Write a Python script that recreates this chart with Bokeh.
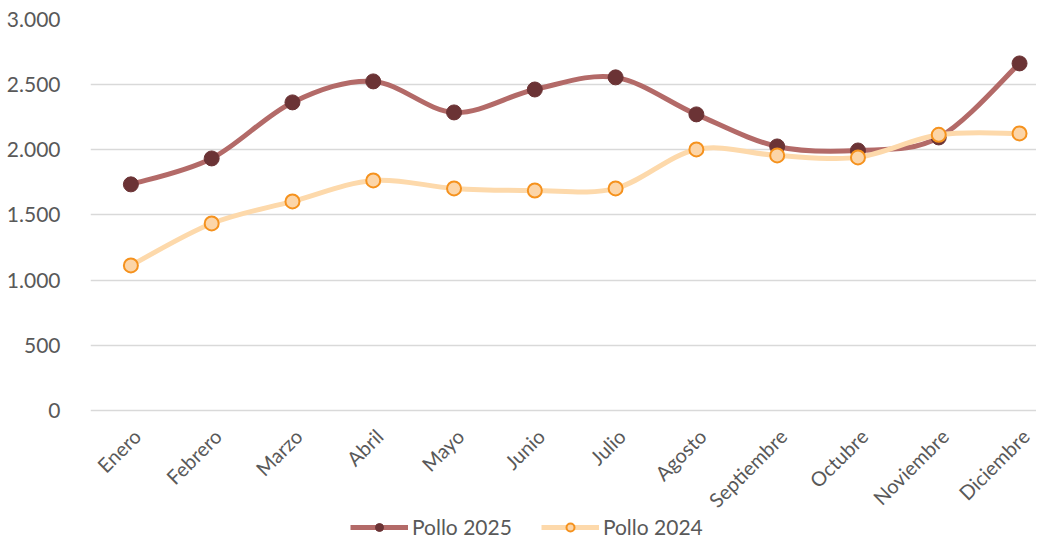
import numpy as np
from bokeh.plotting import figure
from bokeh.models import FixedTicker, Legend, LegendItem, Range1d, ColumnDataSource
from bokeh.core.properties import value
from bokeh.embed import file_html
from bokeh.resources import INLINE

months = ["Enero", "Febrero", "Marzo", "Abril", "Mayo", "Junio", "Julio",
          "Agosto", "Septiembre", "Octubre", "Noviembre", "Diciembre"]
pollo_2025 = [1735, 1934, 2364, 2525, 2287, 2463, 2556, 2272, 2026, 1995, 2095, 2663]
pollo_2024 = [1113, 1435, 1604, 1765, 1704, 1688, 1704, 2003, 1957, 1942, 2115, 2126]
y_ticks = [0, 500, 1000, 1500, 2000, 2500, 3000]
y_tick_labels = ["0", "500", "1.000", "1.500", "2.000", "2.500", "3.000"]

FONT = "Lato"
TXT = "#595959"

# frame spans to the bottom so the legend (drawn inside the frame) sits below the month labels
Y_MIN, Y_MAX = -1013, 3000
p = figure(frame_width=946, frame_height=523, output_backend="svg", toolbar_location=None,
           x_range=Range1d(-0.5, 11.21), y_range=Range1d(Y_MIN, Y_MAX),
           min_border_left=90, min_border_right=0, min_border_top=19, min_border_bottom=0)
p.outline_line_color = None
p.background_fill_color = "white"

xs = np.arange(len(months), dtype=float)


def smooth_segments(x, y):
    n = len(x)
    x0, y0, x1, y1, cx0, cy0, cx1, cy1 = ([] for _ in range(8))
    for i in range(n - 1):
        xm, ym = (x[i - 1], y[i - 1]) if i > 0 else (x[i], y[i])
        xp, yp = (x[i + 2], y[i + 2]) if i + 2 < n else (x[i + 1], y[i + 1])
        x0.append(x[i]); y0.append(y[i]); x1.append(x[i + 1]); y1.append(y[i + 1])
        cx0.append(x[i] + (x[i + 1] - xm) / 6.0); cy0.append(y[i] + (y[i + 1] - ym) / 6.0)
        cx1.append(x[i + 1] - (xp - x[i]) / 6.0); cy1.append(y[i + 1] - (yp - y[i]) / 6.0)
    return dict(x0=x0, y0=y0, x1=x1, y1=y1, cx0=cx0, cy0=cy0, cx1=cx1, cy1=cy1)


s25 = smooth_segments(xs, np.array(pollo_2025, float))
s24 = smooth_segments(xs, np.array(pollo_2024, float))

c25_line, c25_fill = "#b36a68", "#6b3335"
c24_line, c24_fill, c24_edge = "#fdd9ab", "#fcd5a8", "#f5921e"

b25 = p.bezier(line_color=c25_line, line_width=5, line_cap="round", **s25)
m25 = p.scatter(xs, pollo_2025, size=15, fill_color=c25_fill, line_color=c25_fill)
b24 = p.bezier(line_color=c24_line, line_width=5, line_cap="round", **s24)
m24 = p.scatter(xs, pollo_2024, size=14, fill_color=c24_fill, line_color=c24_edge, line_width=2)

# month labels along the zero line, rotated 45 degrees
lab_src = ColumnDataSource(dict(x=xs, y=[0] * len(months), text=months))
p.text(x="x", y="y", text="text", source=lab_src, angle=np.pi / 4,
       text_align="right", text_baseline="middle", x_offset=6, y_offset=22,
       text_font=value(FONT), text_font_size="20px", text_color=TXT)

# legend proxies (outside the visible range)
l25 = p.line([0, 1], [Y_MIN - 500, Y_MIN - 500], line_color=c25_line, line_width=5)
l24 = p.line([0, 1], [Y_MIN - 500, Y_MIN - 500], line_color=c24_line, line_width=5)

legend = Legend(items=[LegendItem(label="Pollo 2025", renderers=[l25, m25]),
                       LegendItem(label="Pollo 2024", renderers=[l24, m24])],
                orientation="horizontal", location=(260, 3),
                label_text_font=FONT, label_text_font_size="21px", label_text_color=TXT,
                glyph_width=58, glyph_height=20, spacing=29, label_standoff=4,
                label_height=20, padding=0, margin=0, border_line_color=None,
                background_fill_alpha=0)
p.add_layout(legend)

p.yaxis.ticker = FixedTicker(ticks=y_ticks)
p.yaxis.major_label_overrides = {t: l for t, l in zip(y_ticks, y_tick_labels)}
p.yaxis.axis_line_color = None
p.yaxis.major_tick_line_color = None
p.yaxis.minor_tick_line_color = None
p.yaxis.major_label_text_font = FONT
p.yaxis.major_label_text_font_size = "21px"
p.yaxis.major_label_text_color = TXT
p.yaxis.major_label_standoff = 24

p.xaxis.visible = False

p.xgrid.grid_line_color = None
p.ygrid.ticker = FixedTicker(ticks=y_ticks)
p.ygrid.grid_line_color = "#d9d9d9"
p.ygrid.grid_line_width = 1.5

open("out.html", "w").write(file_html(p, INLINE))
